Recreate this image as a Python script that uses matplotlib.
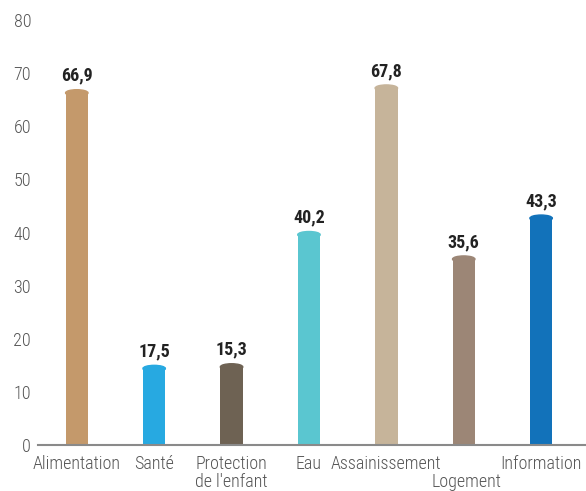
import numpy as np
import matplotlib
matplotlib.use('Agg')
import matplotlib.pyplot as plt
import matplotlib.transforms as mtrans
from matplotlib.patches import Ellipse

# data
categories = ['Alimentation', 'Santé', 'Protection\nde l\'enfant', 'Eau',
              'Assainissement', 'Logement', 'Information']
labels = ['66,9', '17,5', '15,3', '40,2', '67,8', '35,6', '43,3']
heights = [66.9, 15.0, 15.3, 40.2, 67.8, 35.6, 43.3]  # bar heights as drawn
colors = ['#C4996B', '#27A9E1', '#6E6253', '#5AC6D0', '#C6B49A', '#9C8676', '#1272BA']
low_label = 'Logement'  # this one sits on a second line in the original

plt.rcParams['font.family'] = ['Roboto Condensed', 'PT Sans Narrow', 'DejaVu Sans']

fig = plt.figure(figsize=(5.86, 4.91), dpi=100)
ax = fig.add_axes([0.065, 0.0937, 0.935, 0.8653])

x = np.arange(len(heights))
w = 0.29
cap = 1.2
for xi, h, c, lab in zip(x, heights, colors, labels):
    ax.bar(xi, h - cap / 2, width=w, color=c, zorder=2)
    ax.add_patch(Ellipse((xi, h - cap / 2), w, cap, color=c, zorder=2))
    ax.annotate(lab, (xi, h), xytext=(0, 3.5), textcoords='offset points',
                ha='center', va='bottom', fontsize=13, fontweight='bold',
                color='#222222')

ax.set_xlim(-0.5, 6.58)
ax.set_ylim(0, 80)
ax.set_yticks(range(0, 81, 10))
ax.set_xticks(x)
ticklabs = [('' if c == low_label else c) for c in categories]
ax.set_xticklabels(ticklabs, linespacing=1.0)

# Logement is dropped to the second line
tr = mtrans.blended_transform_factory(ax.transData, ax.transAxes)
xi = categories.index(low_label)
ax.annotate(low_label, (xi, 0), xycoords=tr, xytext=(2, -20), textcoords='offset points',
            ha='center', va='top', fontsize=13, color='#555555', fontweight='light')

for s in ['top', 'right', 'left']:
    ax.spines[s].set_visible(False)
ax.spines['bottom'].set_color('#8a8a8a')
ax.spines['bottom'].set_linewidth(1.5)
ax.tick_params(axis='both', length=0, labelsize=13, colors='#555555')
for t in ax.get_xticklabels() + ax.get_yticklabels():
    t.set_fontweight('light')
ax.tick_params(axis='y', pad=5)
ax.tick_params(axis='x', pad=7)

plt.savefig('out.png', dpi=100)
